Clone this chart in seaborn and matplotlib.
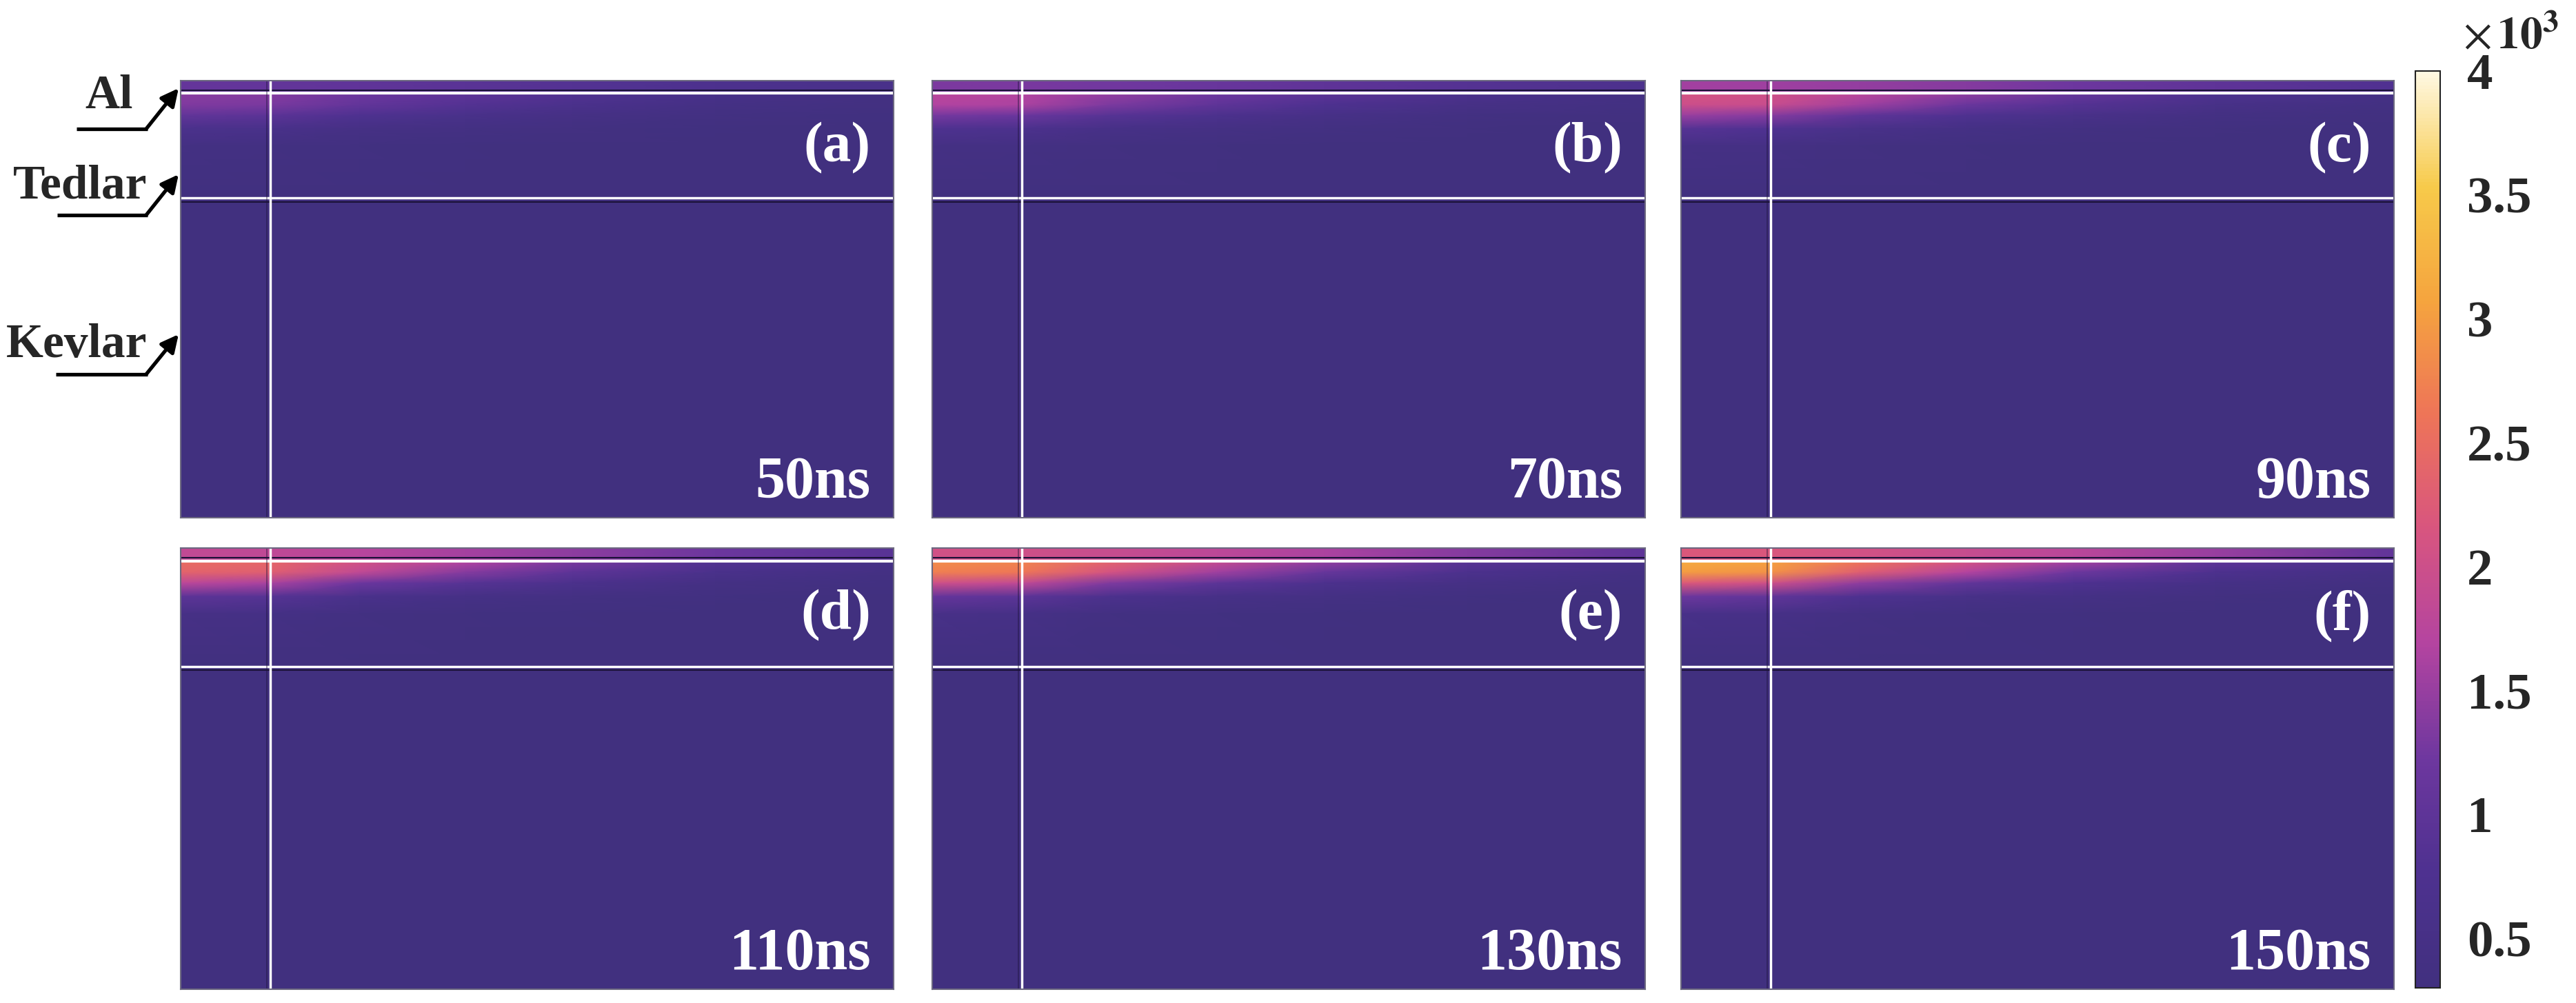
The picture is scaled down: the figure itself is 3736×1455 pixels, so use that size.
import numpy as np
import matplotlib
matplotlib.use("Agg")
import matplotlib.pyplot as plt
import seaborn as sns
from matplotlib.colors import Normalize
from matplotlib.lines import Line2D
from matplotlib.patches import FancyArrowPatch

# ---- data (temperature, x10^3 K) ----
# node positions as fractions of each panel (radius across, depth down)
r_nodes = [0.0, 0.125, 0.25, 0.4, 0.55, 0.75, 1.0]
al_depth = [0.0, 0.026]
body_depth = [0.031, 0.055, 0.08, 0.11, 0.15, 0.268, 1.0]

times = ["50ns", "70ns", "90ns", "110ns", "130ns", "150ns"]
tags = ["(a)", "(b)", "(c)", "(d)", "(e)", "(f)"]

# Al skin layer, values along the radius
al_a = [1.10, 1.08, 1.03, 0.95, 0.85, 0.72, 0.60]
al_b = [1.32, 1.30, 1.24, 1.14, 1.02, 0.87, 0.70]
al_c = [1.58, 1.55, 1.48, 1.37, 1.22, 1.02, 0.80]
al_d = [1.85, 1.82, 1.74, 1.60, 1.43, 1.20, 0.92]
al_e = [2.05, 2.02, 1.93, 1.80, 1.63, 1.38, 1.00]
al_f = [2.20, 2.17, 2.07, 1.93, 1.76, 1.50, 1.05]

# Tedlar + Kevlar body, rows follow body_depth, columns follow r_nodes
body_a = [[1.41, 1.37, 1.20, 1.00, 0.81, 0.57, 0.40],
          [1.35, 1.31, 1.08, 0.85, 0.65, 0.46, 0.36],
          [1.04, 0.96, 0.75, 0.59, 0.48, 0.38, 0.32],
          [0.66, 0.60, 0.48, 0.41, 0.36, 0.32, 0.30],
          [0.42, 0.40, 0.35, 0.32, 0.31, 0.30, 0.30],
          [0.30, 0.30, 0.30, 0.30, 0.30, 0.30, 0.30],
          [0.30, 0.30, 0.30, 0.30, 0.30, 0.30, 0.30]]
body_b = [[1.75, 1.70, 1.47, 1.22, 0.96, 0.66, 0.43],
          [1.68, 1.63, 1.32, 1.01, 0.76, 0.51, 0.38],
          [1.27, 1.17, 0.89, 0.68, 0.53, 0.40, 0.33],
          [0.77, 0.70, 0.53, 0.44, 0.38, 0.33, 0.31],
          [0.45, 0.42, 0.36, 0.33, 0.31, 0.30, 0.30],
          [0.30, 0.30, 0.30, 0.30, 0.30, 0.30, 0.30],
          [0.30, 0.30, 0.30, 0.30, 0.30, 0.30, 0.30]]
body_c = [[2.10, 2.03, 1.75, 1.43, 1.12, 0.74, 0.46],
          [2.00, 1.94, 1.56, 1.18, 0.87, 0.56, 0.39],
          [1.50, 1.37, 1.02, 0.77, 0.58, 0.43, 0.34],
          [0.88, 0.78, 0.58, 0.47, 0.40, 0.34, 0.31],
          [0.48, 0.45, 0.37, 0.33, 0.31, 0.30, 0.30],
          [0.30, 0.30, 0.30, 0.30, 0.30, 0.30, 0.30],
          [0.30, 0.30, 0.30, 0.30, 0.30, 0.30, 0.30]]
body_d = [[2.49, 2.42, 2.07, 1.69, 1.30, 0.84, 0.49],
          [2.38, 2.30, 1.84, 1.38, 0.99, 0.62, 0.42],
          [1.76, 1.61, 1.19, 0.88, 0.65, 0.45, 0.35],
          [0.99, 0.88, 0.64, 0.50, 0.42, 0.35, 0.31],
          [0.51, 0.47, 0.39, 0.34, 0.32, 0.30, 0.30],
          [0.30, 0.30, 0.30, 0.30, 0.30, 0.30, 0.30],
          [0.30, 0.30, 0.30, 0.30, 0.30, 0.30, 0.30]]
body_e = [[2.85, 2.76, 2.36, 1.91, 1.46, 0.93, 0.52],
          [2.72, 2.63, 2.09, 1.55, 1.11, 0.68, 0.43],
          [2.00, 1.82, 1.33, 0.97, 0.70, 0.48, 0.35],
          [1.10, 0.97, 0.70, 0.53, 0.44, 0.35, 0.31],
          [0.54, 0.50, 0.40, 0.35, 0.32, 0.30, 0.30],
          [0.30, 0.30, 0.30, 0.30, 0.30, 0.30, 0.30],
          [0.30, 0.30, 0.30, 0.30, 0.30, 0.30, 0.30]]
body_f = [[3.15, 3.05, 2.60, 2.10, 1.60, 1.00, 0.55],
          [3.00, 2.90, 2.30, 1.70, 1.20, 0.72, 0.45],
          [2.20, 2.00, 1.45, 1.05, 0.75, 0.50, 0.36],
          [1.20, 1.05, 0.75, 0.56, 0.46, 0.36, 0.31],
          [0.57, 0.52, 0.41, 0.35, 0.32, 0.30, 0.30],
          [0.30, 0.30, 0.30, 0.30, 0.30, 0.30, 0.30],
          [0.30, 0.30, 0.30, 0.30, 0.30, 0.30, 0.30]]

al_all = [al_a, al_b, al_c, al_d, al_e, al_f]
body_all = [body_a, body_b, body_c, body_d, body_e, body_f]

cbar_ticks = [0.5, 1, 1.5, 2, 2.5, 3, 3.5, 4]
cbar_labels = ["0.5", "1", "1.5", "2", "2.5", "3", "3.5", "4"]

# ---- style ----
sns.set_theme(style="white")
plt.rcParams["font.family"] = ["Liberation Serif", "DejaVu Serif"]
plt.rcParams["mathtext.fontset"] = "stix"

cmap = sns.blend_palette(["#41307f", "#4e3190", "#6e379f", "#b444a0", "#d8557f",
                          "#ee7458", "#f5a43e", "#f7ca4a", "#fff8e2"], as_cmap=True)
norm = Normalize(vmin=0.3, vmax=4.0)

W, H = 3736, 1455
fig = plt.figure(figsize=(W / 100, H / 100), dpi=100)


def box(x0, y0, x1, y1):
    return [x0 / W, 1 - y1 / H, (x1 - x0) / W, (y1 - y0) / H]


panel_boxes = [box(262, 117, 1296, 751), box(1352, 117, 2386, 751), box(2438, 117, 3472, 751),
               box(262, 795, 1296, 1435), box(1352, 795, 2386, 1435), box(2438, 795, 3472, 1435)]

dark = "#1b1238"
for i in range(6):
    ax = fig.add_axes(panel_boxes[i])
    Xa, Ya = np.meshgrid(r_nodes, al_depth)
    mesh = ax.pcolormesh(Xa, Ya, np.vstack([al_all[i], al_all[i]]),
                         cmap=cmap, norm=norm, shading="gouraud")
    Xb, Yb = np.meshgrid(r_nodes, body_depth)
    ax.pcolormesh(Xb, Yb, np.array(body_all[i]), cmap=cmap, norm=norm, shading="gouraud")
    ax.set_xlim(0, 1)
    ax.set_ylim(1, 0)

    # layer interfaces and the spot edge
    ax.axhline(0.022, color=dark, lw=1.5)
    ax.axhline(0.029, color="white", lw=3)
    ax.axhline(0.268, color="white", lw=2.5)
    ax.axhline(0.277, color=dark, lw=1.5)
    ax.axvline(0.121, color=dark, lw=1.2, alpha=0.5)
    ax.axvline(0.126, color="white", lw=2.5)

    ax.set_xticks([])
    ax.set_yticks([])
    for s in ax.spines.values():
        s.set_color("#6c6880")
        s.set_linewidth(1.5)

    ax.text(0.968, 0.905, tags[i], transform=ax.transAxes, ha="right", va="top",
            color="white", fontsize=60, fontweight="bold")
    ax.text(0.968, 0.046, times[i], transform=ax.transAxes, ha="right", va="baseline",
            color="white", fontsize=62, fontweight="bold")

# colorbar
cax = fig.add_axes(box(3503, 103, 3539, 1433))
cb = fig.colorbar(mesh, cax=cax, ticks=cbar_ticks)
cb.ax.set_yticklabels(cbar_labels)
cb.outline.set_linewidth(1.5)
cb.outline.set_edgecolor("#222222")
cax.yaxis.set_ticks_position("both")
cax.tick_params(axis="y", direction="in", length=8, width=1.5, color="#222222",
                labelleft=False, labelright=True, pad=28, labelsize=54)
for lab in cax.get_yticklabels():
    lab.set_fontweight("bold")
fig.text(3572 / W, 1 - 70 / H, r"$\times\,\mathbf{10^{3}}$", ha="left", va="baseline",
         fontsize=47)


# layer names with arrows on the left
def fx(x):
    return x / W


def fy(y):
    return 1 - y / H


left_labels = [("Al", 158, "center", 157, 111, 187, 128),
               ("Tedlar", 213, "right", 287, 83, 312, 253),
               ("Kevlar", 213, "right", 518, 81, 543, 485)]
for name, tx, ha, ty, ux0, uy, tip in left_labels:
    fig.text(fx(tx), fy(ty), name, ha=ha, va="baseline", fontsize=50, fontweight="bold")
    fig.add_artist(Line2D([fx(ux0), fx(214)], [fy(uy), fy(uy)], color="black", lw=3.8,
                          solid_capstyle="butt"))
    fig.add_artist(FancyArrowPatch((fx(212), fy(uy)), (fx(259), fy(tip)),
                                   transform=fig.transFigure, arrowstyle="-|>",
                                   mutation_scale=38, lw=3.8, color="black",
                                   shrinkA=0, shrinkB=0))

fig.savefig("out.png", dpi=100, facecolor="white")
